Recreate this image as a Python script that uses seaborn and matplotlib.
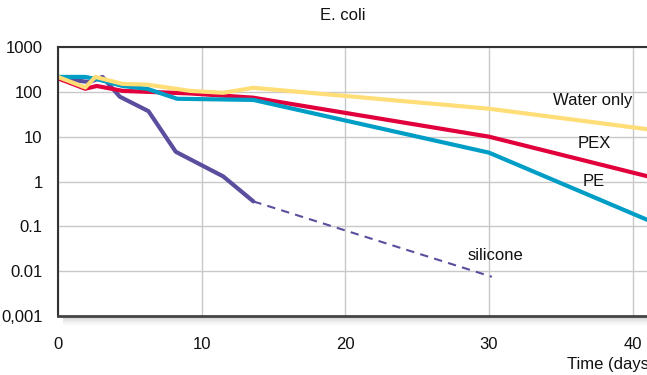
import matplotlib
matplotlib.use("Agg")
import matplotlib.pyplot as plt
import seaborn as sns
import pandas as pd
from matplotlib.patches import Rectangle

# values (CFU, log scale)
water_days = [0, 1.9, 2.6, 4.5, 6.2, 9.2, 11.5, 13.6, 30, 41.5]
water_vals = [215, 125, 215, 150, 145, 105, 95, 123, 42, 14]

pex_days = [0, 1.9, 2.7, 4.5, 9.2, 13.6, 30, 41.5]
pex_vals = [200, 117, 135, 105, 92, 74, 10, 1.2]

pe_days = [0, 1.9, 2.9, 4.5, 6.2, 8.3, 13.6, 30, 41.5]
pe_vals = [215, 215, 185, 135, 117, 70, 66, 4.4, 0.12]

sil_days = [0, 2.2, 3.1, 4.3, 6.3, 8.2, 11.5, 13.6]
sil_vals = [200, 165, 215, 78, 37, 4.6, 1.3, 0.36]
sil_ext_days = [13.6, 30.2]
sil_ext_vals = [0.36, 0.0075]

labels = ["Water only", "PEX", "PE", "silicone"]
ytick_vals = [0.001, 0.01, 0.1, 1, 10, 100, 1000]
ytick_labels = ["0,001", "0.01", "0.1", "1", "10", "100", "1000"]
xtick_vals = [0, 10, 20, 30, 40]

sns.set_style("white")
plt.rcParams['font.family'] = ['Liberation Sans', 'DejaVu Sans']

fig = plt.figure(figsize=(6.47, 3.75), dpi=100)
ax = fig.add_axes([0.0896, 0.1573, 0.9104, 0.7174])

c_water = "#FFDD77"
c_pex = "#E2003C"
c_pe = "#009EC6"
c_sil = "#5A4E9E"

sns.lineplot(x=sil_days, y=sil_vals, color=c_sil, lw=3, ax=ax)
sns.lineplot(x=sil_ext_days, y=sil_ext_vals, color=c_sil, lw=1.5,
             linestyle=(0, (4, 3)), ax=ax)
sns.lineplot(x=pex_days, y=pex_vals, color=c_pex, lw=3, ax=ax)
sns.lineplot(x=pe_days, y=pe_vals, color=c_pe, lw=3, ax=ax)
sns.lineplot(x=water_days, y=water_vals, color=c_water, lw=3, ax=ax)

ax.set_yscale("log")
ax.set_xlim(0, 41.0)
ax.set_ylim(0.001, 1000)
ax.set_yticks(ytick_vals)
ax.set_yticklabels(ytick_labels)
ax.set_xticks(xtick_vals)
ax.minorticks_off()
ax.tick_params(axis="both", length=0, labelsize=12, colors="#111111")
ax.tick_params(axis="y", pad=11)
ax.tick_params(axis="x", pad=15)
ax.grid(True, color="#c8c8c8", lw=1)
ax.set_axisbelow(True)

for s in ["left", "top"]:
    ax.spines[s].set_color("#333333")
    ax.spines[s].set_linewidth(1.5)
ax.spines["bottom"].set_color("#444444")
ax.spines["bottom"].set_linewidth(2)
ax.spines["right"].set_visible(False)

# soft shadow under the x axis
for i, a in enumerate([0.32, 0.22, 0.13, 0.06]):
    ax.add_patch(Rectangle((0.008, -0.004 - 0.007 * (i + 1)), 0.992, 0.007,
                           transform=ax.transAxes, color="#888888", alpha=a,
                           lw=0, clip_on=False))

tk = dict(fontsize=12, color="#111111")
ax.text(553 / 647, 1 - 100 / 375, labels[0], transform=fig.transFigure, va="center", **tk)
ax.text(578 / 647, 1 - 144 / 375, labels[1], transform=fig.transFigure, va="center", **tk)
ax.text(583 / 647, 1 - 181 / 375, labels[2], transform=fig.transFigure, va="center", **tk)
ax.text(468 / 647, 1 - 256 / 375, labels[3], transform=fig.transFigure, va="center", **tk)

fig.text(343 / 647, 1 - 16 / 375, "E. coli", ha="center", va="center", **tk)
fig.text(567 / 647, 1 - 365 / 375, "Time (days)", ha="left", va="center", **tk)

fig.savefig("out.png", dpi=100)
